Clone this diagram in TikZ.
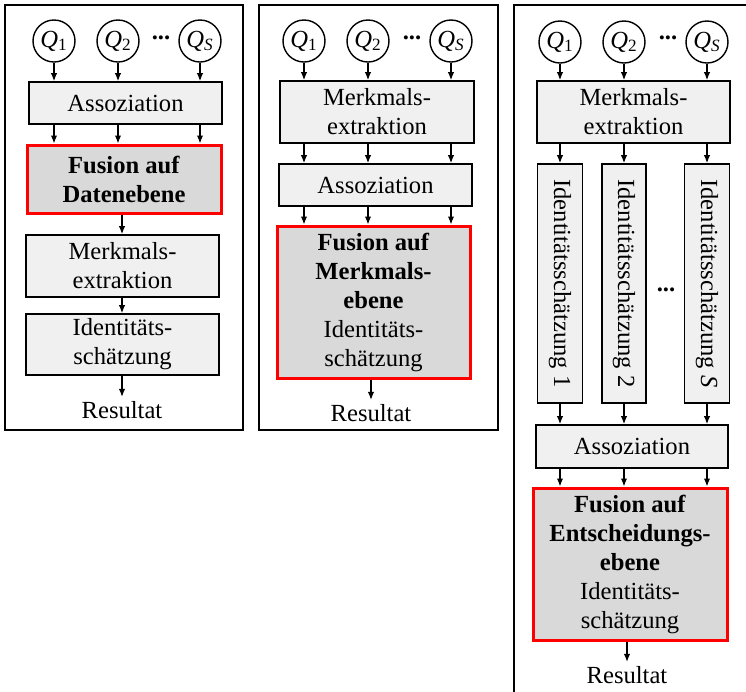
\documentclass[tikz,border=0pt]{standalone}
\usepackage{fontspec}
\setmainfont{Liberation Serif}
\usetikzlibrary{arrows.meta}
\definecolor{boxfill}{HTML}{F0F0F0}
\definecolor{fusionfill}{HTML}{D9D9D9}
\definecolor{fusionred}{HTML}{FF0000}

\begin{document}
\begin{tikzpicture}[x=0.5pt,y=-0.5pt,
  every node/.style={font=\fontsize{12.3}{14.5}\selectfont},
  panel/.style={draw=black,line width=1pt},
  src/.style={circle,draw,line width=0.7pt,minimum size=21pt,inner sep=0pt,fill=white},
  stage/.style={rectangle,draw,line width=0.8pt,fill=boxfill,inner sep=0pt,align=center},
  fusion/.style={rectangle,draw=fusionred,line width=1.5pt,fill=fusionfill,inner sep=0pt,align=center},
  result/.style={inner sep=2pt},
  dots/.style={inner sep=0pt,font=\fontsize{12.3}{14.5}\selectfont\bfseries},
  flow/.style={-{Latex[length=4pt,width=3.2pt]},line width=0.65pt},
]
\useasboundingbox (0,0) rectangle (746,692);
\clip (0,0) rectangle (746,692);

% ---------- data level fusion ----------
\draw[panel] (5,5) rectangle (243,430);
\node[src] (aQ1) at (54,41) {\textit{Q}\textsubscript{1}};
\node[src] (aQ2) at (118,41) {\textit{Q}\textsubscript{2}};
\node[src] (aQS) at (200,41) {\textit{Q}\textsubscript{\textit{S}}};
\node[dots] (adots) at (161,38) {...};
\node[stage,minimum width=96.5pt,minimum height=21pt] (aA) at (125.5,103) {Assoziation};
\node[fusion,minimum width=97pt,minimum height=34pt] (aF) at (124,179) {\textbf{Fusion auf}\\\textbf{Datenebene}};
\node[stage,minimum width=96.5pt,minimum height=31pt] (aM) at (122.5,266) {Merkmals-\\extraktion};
\node[stage,minimum width=96.5pt,minimum height=30.5pt] (aI) at (122.5,344.5) {Identitäts-\\schätzung};
\node[result] (aR) at (122,410) {Resultat};
\foreach \q in {aQ1,aQ2,aQS} {
  \draw[flow] (\q) -- (\q |- aA.north);
  \draw[flow] (\q |- aA.south) -- (\q |- aF.north);
}
\draw[flow] (aF.south -| aR) -- (aM.north -| aR);
\draw[flow] (aM.south -| aR) -- (aI.north -| aR);
\draw[flow] (aI.south -| aR) -- (aR.north);

% ---------- feature level fusion ----------
\draw[panel] (259,5) rectangle (498,430);
\node[src] (bQ1) at (304,41) {\textit{Q}\textsubscript{1}};
\node[src] (bQ2) at (368,41) {\textit{Q}\textsubscript{2}};
\node[src] (bQS) at (451,41) {\textit{Q}\textsubscript{\textit{S}}};
\node[dots] (bdots) at (412,38) {...};
\node[stage,minimum width=97pt,minimum height=31pt] (bM) at (377,112) {Merkmals-\\extraktion};
\node[stage,minimum width=96.5pt,minimum height=21pt] (bA) at (375.5,185) {Assoziation};
\node[fusion,minimum width=96.5pt,minimum height=76pt] (bF) at (373.5,302) {\textbf{Fusion auf}\\\textbf{Merkmals-}\\\textbf{ebene}\\Identitäts-\\schätzung};
\node[result] (bR) at (371,413) {Resultat};
\foreach \q in {bQ1,bQ2,bQS} {
  \draw[flow] (\q) -- (\q |- bM.north);
  \draw[flow] (\q |- bM.south) -- (\q |- bA.north);
  \draw[flow] (\q |- bA.south) -- (\q |- bF.north);
}
\draw[flow] (bF.south -| bR) -- (bR.north);

% ---------- decision level fusion ----------
\draw[panel] (514,5) rectangle (770,720);
\node[src] (cQ1) at (560,42) {\textit{Q}\textsubscript{1}};
\node[src] (cQ2) at (624,42) {\textit{Q}\textsubscript{2}};
\node[src] (cQS) at (707,42) {\textit{Q}\textsubscript{\textit{S}}};
\node[dots] (cdots) at (668,38) {...};
\node[stage,minimum width=96.5pt,minimum height=31pt] (cM) at (633.5,112) {Merkmals-\\extraktion};
\node[stage,minimum width=22.5pt,minimum height=119.5pt] (cI1) at (560,283.5) {};
\node[stage,minimum width=22pt,minimum height=119.5pt] (cI2) at (624,283.5) {};
\node[stage,minimum width=22.5pt,minimum height=119.5pt] (cIS) at (707,283.5) {};
\node[rotate=-90,inner sep=0pt] (cI1t) at (cI1) {Identitätsschätzung 1};
\node[rotate=-90,inner sep=0pt] (cI2t) at (cI2) {Identitätsschätzung 2};
\node[rotate=-90,inner sep=0pt] (cISt) at (cIS) {Identitätsschätzung \textit{S}};
\node[dots] (cIdots) at (666,290) {...};
\node[stage,minimum width=96pt,minimum height=21.5pt] (cA) at (632,446.5) {Assoziation};
\node[fusion,minimum width=97pt,minimum height=76pt] (cF) at (630,564) {\textbf{Fusion auf}\\\textbf{Entscheidungs-}\\\textbf{ebene}\\Identitäts-\\schätzung};
\node[result] (cR) at (627,675) {Resultat};
\draw[flow] (cQ1) -- (cQ1 |- cM.north);
\draw[flow] (cQ2) -- (cQ2 |- cM.north);
\draw[flow] (cQS) -- (cQS |- cM.north);
\foreach \b in {cI1,cI2,cIS} {
  \draw[flow] (\b |- cM.south) -- (\b.north);
  \draw[flow] (\b.south) -- (\b |- cA.north);
  \draw[flow] (\b |- cA.south) -- (\b |- cF.north);
}
\draw[flow] (cF.south -| cR) -- (cR.north);
\end{tikzpicture}
\end{document}
